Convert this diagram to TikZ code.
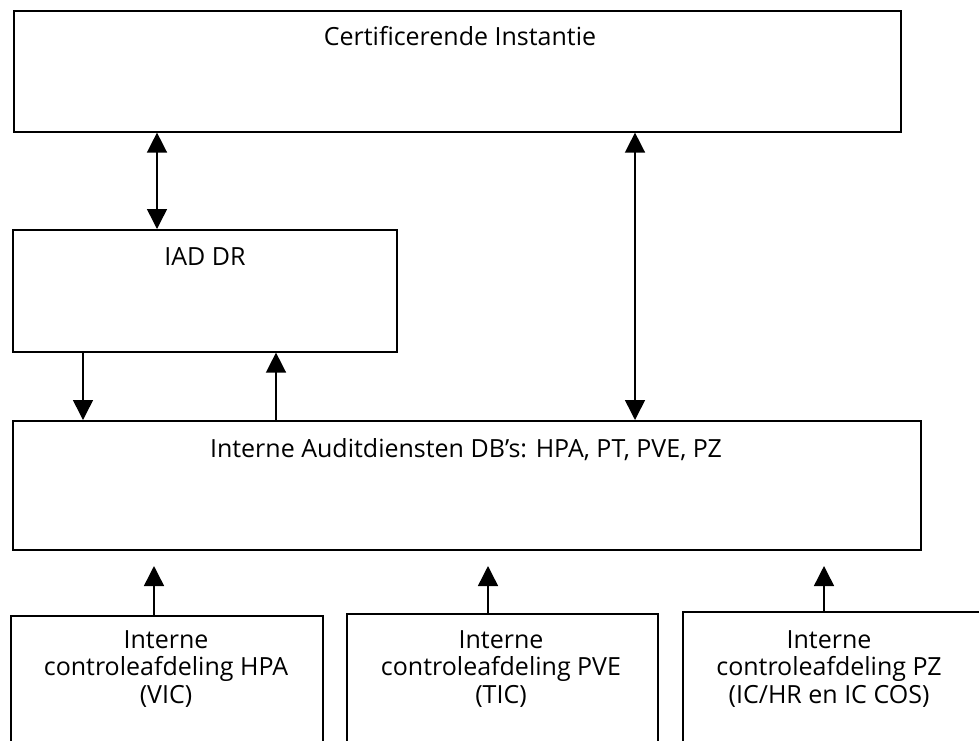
\documentclass[tikz,border=0pt]{standalone}
\usepackage{fontspec}
\setmainfont{Open Sans}
\usetikzlibrary{arrows.meta}
\begin{document}
\begin{tikzpicture}[x=1pt,y=-1pt,
  box/.style={draw, line width=1.6pt, inner sep=0pt, anchor=north west},
  txt/.style={font=\fontsize{25}{27.5}\selectfont, align=center, inner sep=0pt, anchor=base},
  arr/.style={line width=1.5pt, -{Triangle[length=20pt,width=20pt]}},
  dbl/.style={line width=1.5pt, {Triangle[length=20pt,width=20pt]}-{Triangle[length=20pt,width=20pt]}}]
\useasboundingbox (0,0) rectangle (979,740);
\clip (0,0) rectangle (979,740);
\node[box, minimum width=887pt, minimum height=121pt] (ci) at (13,10) {};
\node[box, minimum width=384pt, minimum height=122pt] (iad) at (12,229) {};
\node[box, minimum width=908pt, minimum height=129pt] (ia) at (12,420) {};
\node[box, minimum width=312pt, minimum height=150pt] (b1) at (10,615) {};
\node[box, minimum width=311pt, minimum height=150pt] (b2) at (346,613) {};
\node[box, minimum width=300pt, minimum height=150pt] (b3) at (682,611) {};
\node[txt] (tci) at (460,45) {Certificerende Instantie};
\node[txt] (tiad) at (205,265) {IAD DR};
\node[txt] (tia) at (466,457) {Interne Auditdiensten DB’s: HPA, PT, PVE, PZ};
\node[txt] (tb1) at (166,703) {Interne\\controleafdeling HPA\\(VIC)};
\node[txt] (tb2) at (501,703) {Interne\\controleafdeling PVE\\(TIC)};
\node[txt] (tb3) at (829,703) {Interne\\controleafdeling PZ\\(IC/HR en IC COS)};
\coordinate (e1) at ([xshift=144pt,yshift=49pt]b1.north west);
\coordinate (e2) at ([xshift=142pt,yshift=47pt]b2.north west);
\coordinate (e3) at ([xshift=142pt,yshift=45pt]b3.north west);
\draw[dbl] ([xshift=144pt]ci.south west) -- ([xshift=145pt]iad.north west);
\draw[dbl] ([xshift=622pt]ci.south west) -- ([xshift=623pt]ia.north west);
\draw[arr] ([xshift=71pt]iad.south west) -- ([xshift=71pt]ia.north west);
\draw[arr] ([xshift=264pt]ia.north west) -- ([xshift=264pt]iad.south west);
\draw[arr] ([xshift=144pt]b1.north west) -- (e1);
\draw[arr] ([xshift=142pt]b2.north west) -- (e2);
\draw[arr] ([xshift=142pt]b3.north west) -- (e3);
\end{tikzpicture}
\end{document}
